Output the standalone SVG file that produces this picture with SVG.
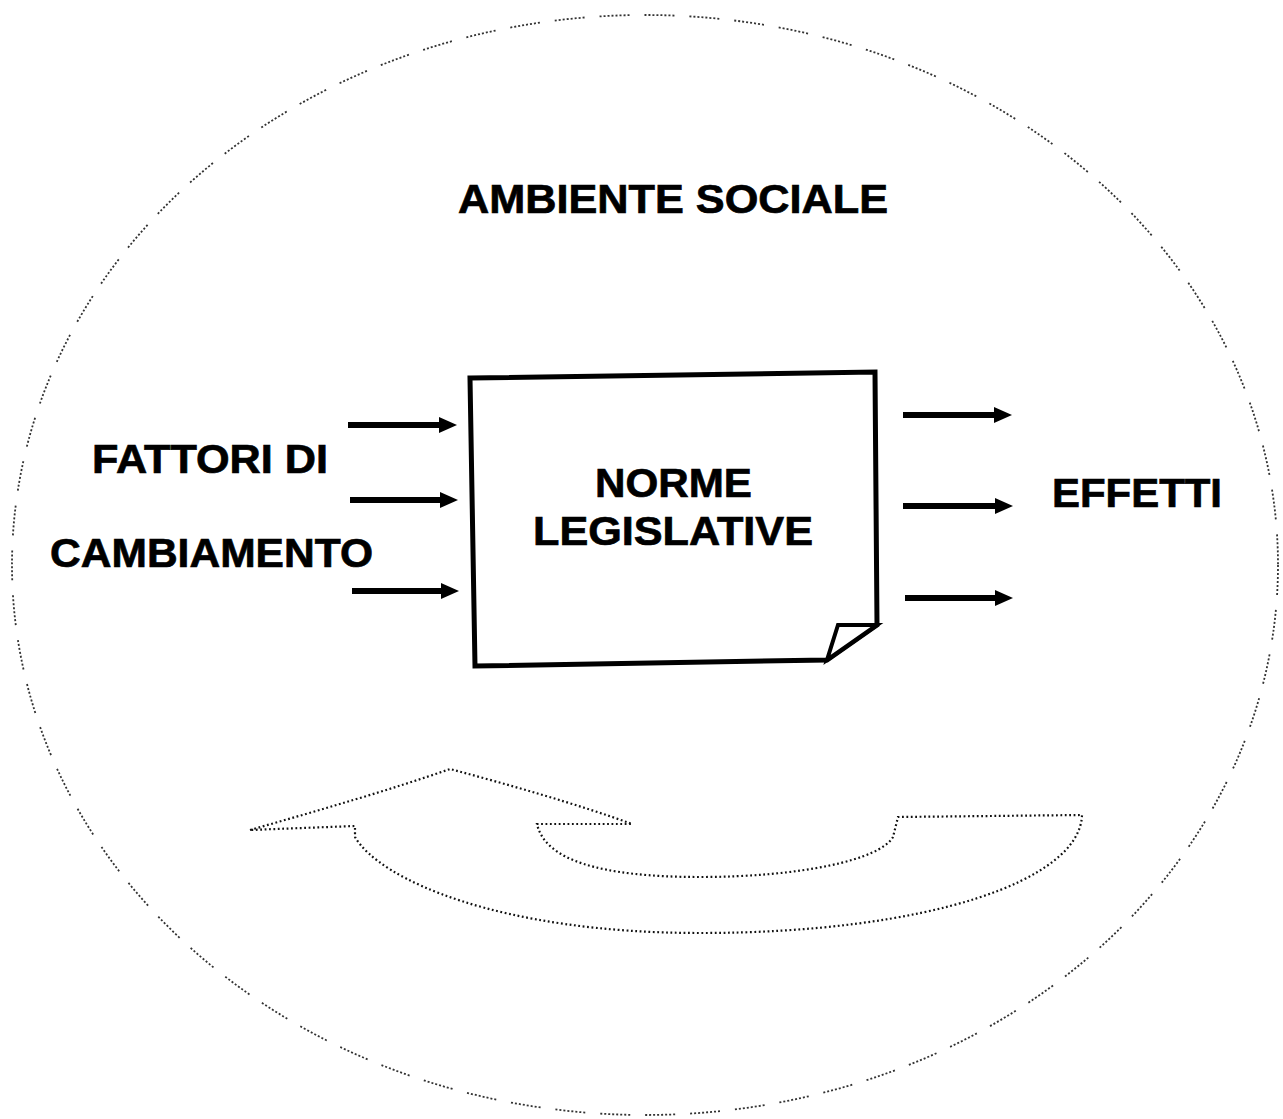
<svg xmlns="http://www.w3.org/2000/svg" width="1283" height="1119" viewBox="0 0 1283 1119">
<defs>
<style>
.lbl{font-family:"Liberation Sans",Arial,sans-serif;font-weight:bold;font-size:41px;fill:#000;stroke:#000;stroke-width:0.7}
.arr{stroke:#000;stroke-width:6;fill:none;marker-end:url(#head)}
.env{fill:none;stroke:#333;stroke-width:1.8;stroke-dasharray:2 2 2 2 2 2 2 2 2 2 2 2 2 2 2 15}
.cyc{fill:none;stroke:#111;stroke-width:2.2;stroke-dasharray:1.8 2.6}
.doc{fill:#fff;stroke:#000;stroke-width:5;stroke-linejoin:miter}
</style>
<marker id="head" markerUnits="userSpaceOnUse" markerWidth="18" markerHeight="16" refX="0" refY="8" orient="auto">
<path d="M0,0 L18,8 L0,16 z" fill="#000"/>
</marker>
</defs>
<rect width="1283" height="1119" fill="#fff"/>
<g id="ambiente">
<ellipse class="env" cx="645" cy="565" rx="633" ry="550"/>
<text class="lbl" x="458" y="213" textLength="430" lengthAdjust="spacingAndGlyphs">AMBIENTE SOCIALE</text>
</g>
<g id="ciclo">
<path class="cyc" d="M250,830 C320,810 390,790 450,769 C510,785 580,805 632,824 L537,824 C545,860 600,877 700,877 C800,877 880,860 893,837 L898,817 L1082,815 C1080,880 930,933 700,933 C500,933 380,880 355,837 L355,826 Z"/>
</g>
<g id="fattori">
<text class="lbl" x="92" y="473" textLength="236" lengthAdjust="spacingAndGlyphs">FATTORI DI</text>
<text class="lbl" x="50" y="567" textLength="323" lengthAdjust="spacingAndGlyphs">CAMBIAMENTO</text>
</g>
<g id="norme">
<path class="doc" d="M470,378 L875,372 L877,625 L827,660 L475,666 Z"/>
<path d="M838,625 L877,625 L827,660 Z" fill="#fff" stroke="#000" stroke-width="4" stroke-linejoin="miter"/>
<text class="lbl" x="595" y="497" textLength="157" lengthAdjust="spacingAndGlyphs">NORME</text>
<text class="lbl" x="533" y="545" textLength="280" lengthAdjust="spacingAndGlyphs">LEGISLATIVE</text>
</g>
<g id="effetti">
<text class="lbl" x="1052" y="507" textLength="170" lengthAdjust="spacingAndGlyphs">EFFETTI</text>
</g>
<g id="connectors">
<line class="arr" x1="348" y1="425" x2="439" y2="425"/>
<line class="arr" x1="350" y1="500" x2="440" y2="500"/>
<line class="arr" x1="352" y1="591" x2="441" y2="591"/>
<line class="arr" x1="903" y1="415" x2="994" y2="415"/>
<line class="arr" x1="903" y1="506" x2="995" y2="506"/>
<line class="arr" x1="905" y1="598" x2="995" y2="598"/>
</g>
</svg>
